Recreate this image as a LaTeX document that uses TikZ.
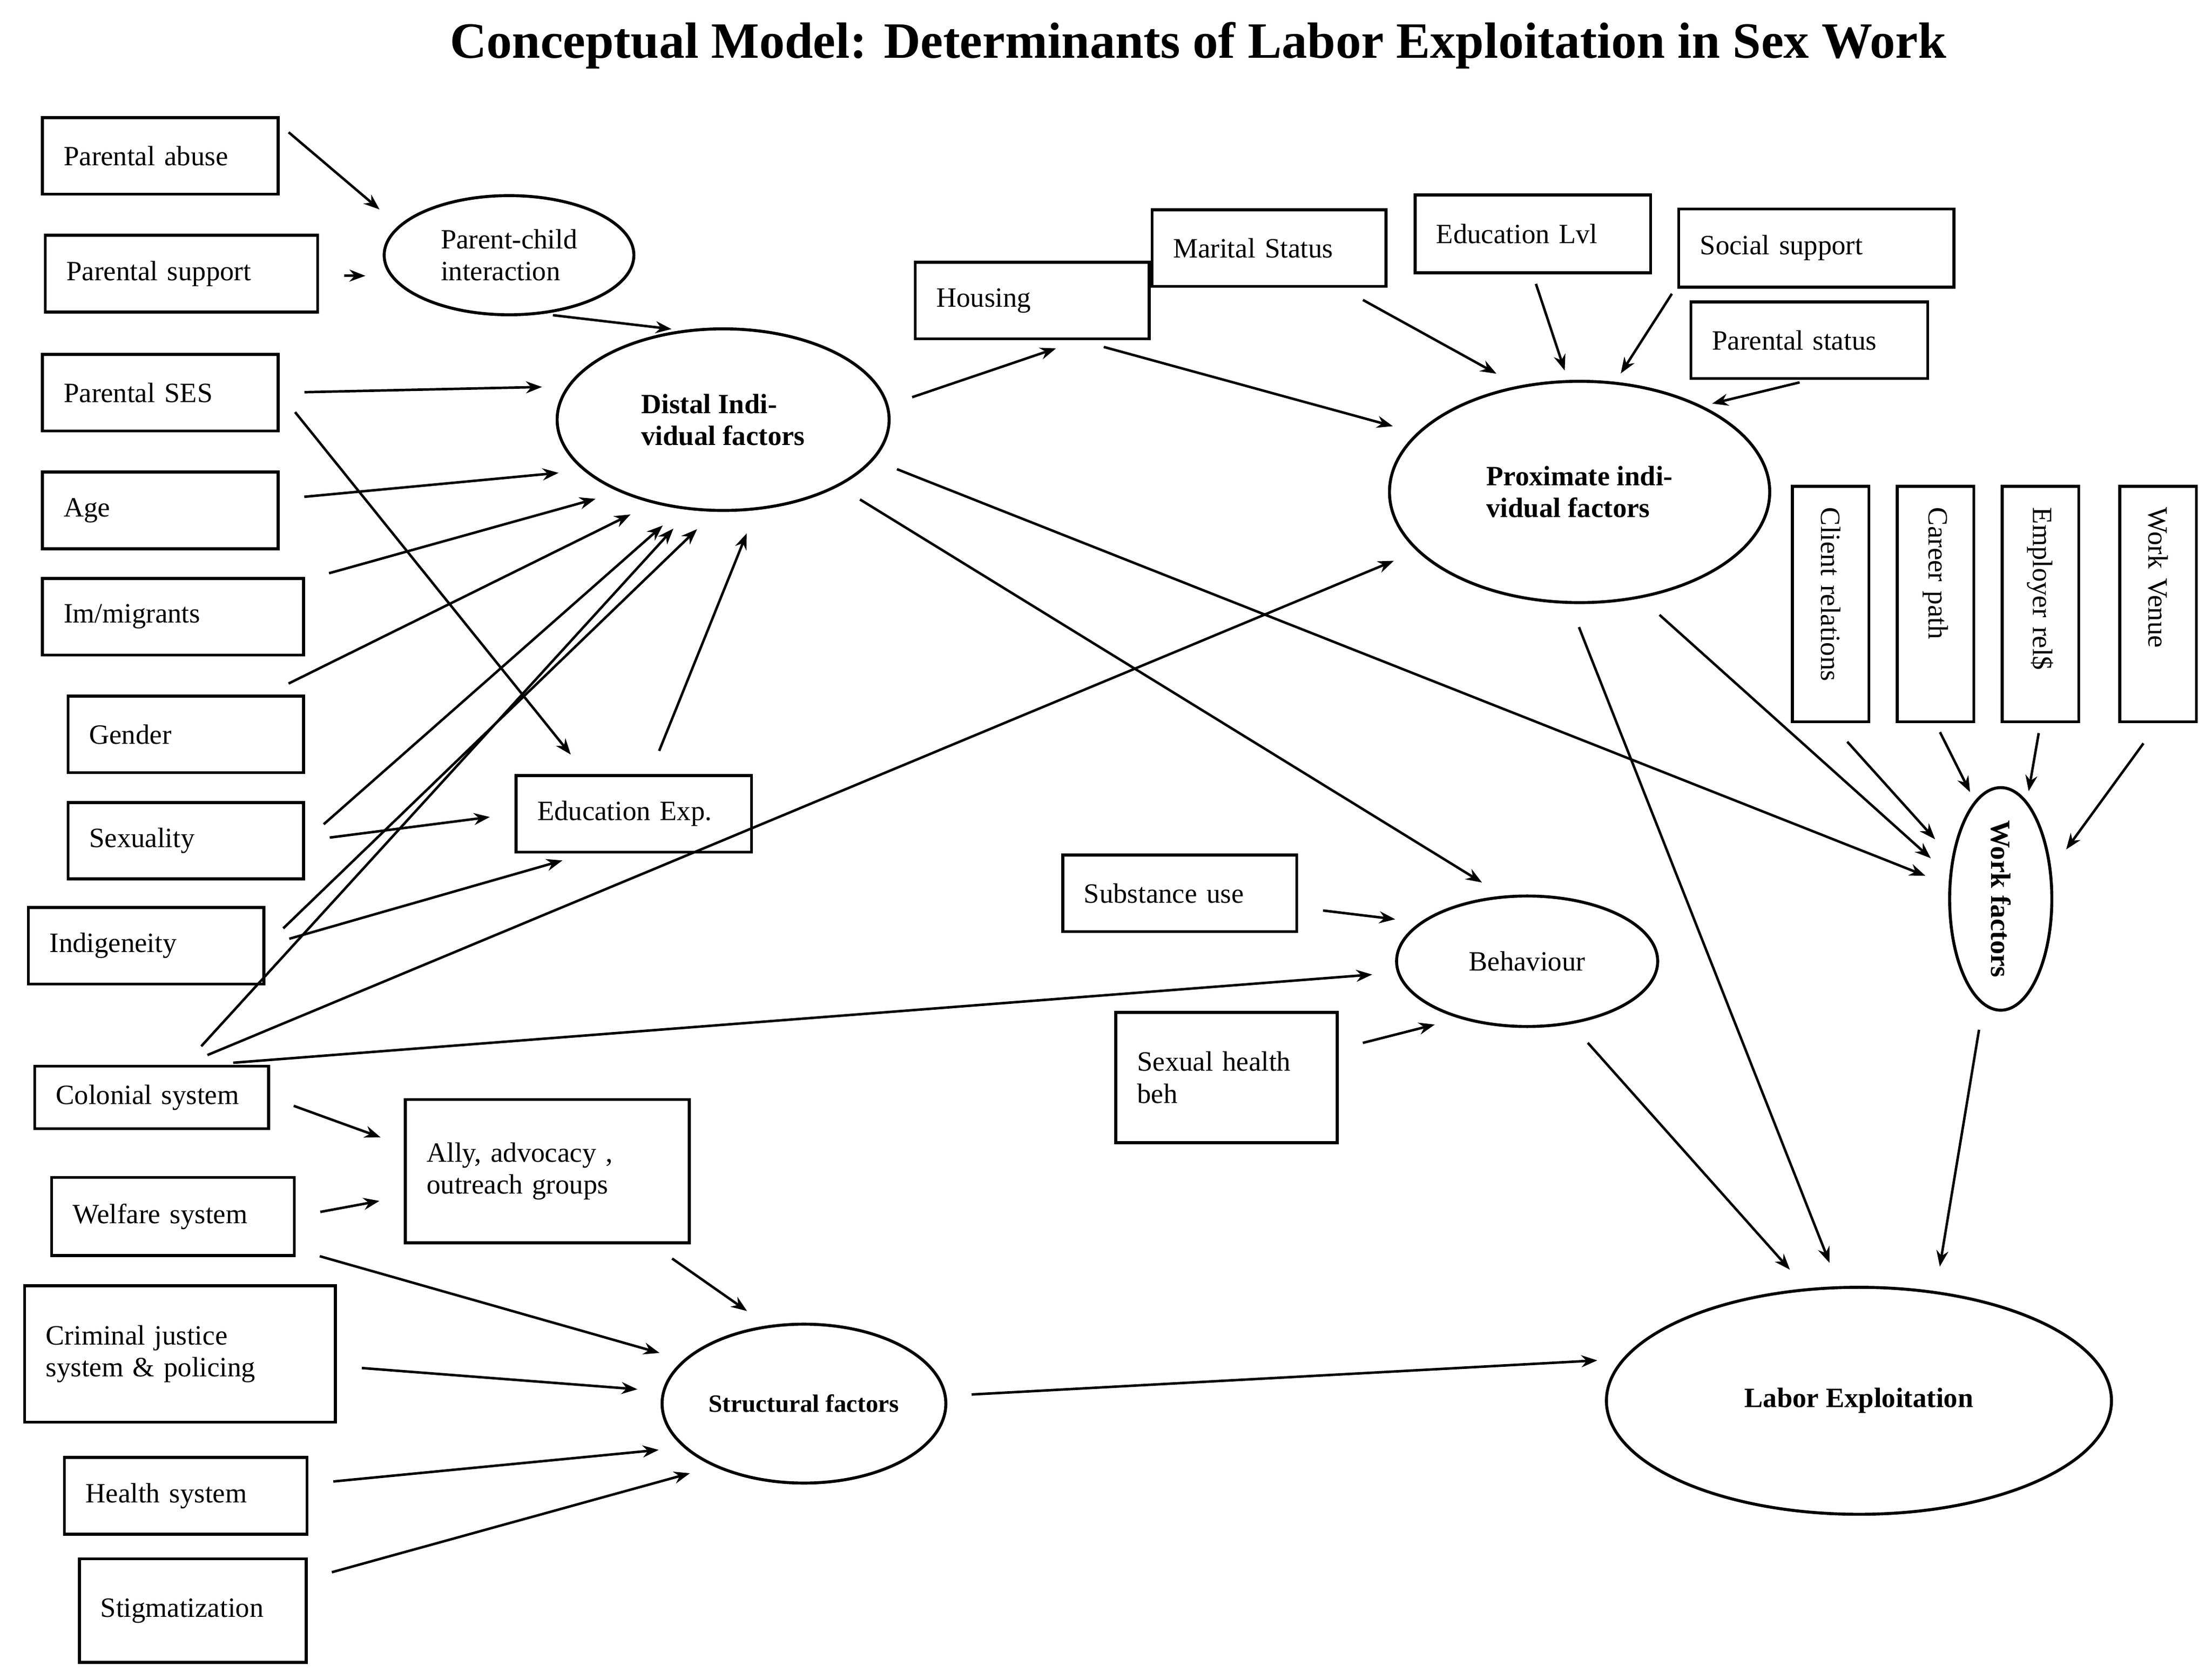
\documentclass[tikz,border=0pt]{standalone}
\usepackage{fontspec}
\setmainfont{Liberation Serif}
\usetikzlibrary{arrows.meta,shapes.geometric}
\tikzset{
  box/.style 2 args={draw, line width=0.6pt, text width=#1, minimum height=#2,
    inner xsep=0.15cm, align=left, font=\fontsize{5.6}{6.4}\selectfont},
  vbox/.style={box={1.36cm}{0.54cm}, rotate=-90},
  oval/.style 2 args={draw, ellipse, line width=0.6pt, minimum width=#1,
    minimum height=#2, align=left, inner sep=0pt, font=\fontsize{5.6}{6.4}\selectfont},
  link/.style={-{Stealth[length=3.2pt,width=2.4pt]}, line width=0.5pt,
    shorten <=5pt, shorten >=5pt},
  near/.style={shorten <=2pt, shorten >=2pt}
}
\begin{document}
\begin{tikzpicture}[x=0.01cm, y=-0.01cm]
  \useasboundingbox[fill=white] (0,0) rectangle (1560,1180);
  \node[font=\fontsize{10.2}{12}\selectfont\bfseries] (title) at (845,32)
    {Conceptual Model: Determinants of Labor Exploitation in Sex Work};
  % Left column
  \node[box={1.36cm}{0.54cm}] (abuse) at (113,110) {Parental abuse};
  \node[box={1.62cm}{0.54cm}] (support) at (128,193) {Parental support};
  \node[box={1.36cm}{0.54cm}] (ses) at (113,277) {Parental SES};
  \node[box={1.36cm}{0.54cm}] (age) at (113,360) {Age};
  \node[box={1.54cm}{0.54cm}] (migr) at (122,435) {Im/migrants};
  \node[box={1.36cm}{0.54cm}] (gender) at (131,518) {Gender};
  \node[box={1.36cm}{0.54cm}] (sexual) at (131,593) {Sexuality};
  \node[box={1.36cm}{0.54cm}] (indig) at (103,667) {Indigeneity};
  \node[box={1.35cm}{0.44cm}] (colon) at (107,774) {Colonial system};
  \node[box={1.41cm}{0.55cm}] (welfare) at (122,858) {Welfare system};
  \node[box={1.89cm}{0.96cm}] (crime) at (127,955) {Criminal justice\\system \& policing};
  \node[box={1.41cm}{0.54cm}] (health) at (131,1055) {Health system};
  \node[box={1.30cm}{0.73cm}] (stigma) at (136,1136) {Stigmatization};
  % Middle
  \node[oval={1.76cm}{0.84cm}] (pc) at (359,180) {Parent-child\\interaction};
  \node[oval={2.34cm}{1.28cm}, font=\fontsize{5.6}{6.4}\selectfont\bfseries] (distal) at (510,296) {Distal Indi-\\vidual factors};
  \node[box={1.36cm}{0.54cm}] (eduexp) at (447,574) {Education Exp.};
  \node[box={1.70cm}{1.01cm}] (ally) at (386,826) {Ally, advocacy ,\\outreach groups};
  \node[oval={2.00cm}{1.12cm}, font=\fontsize{5}{6}\selectfont\bfseries] (struct) at (567,990) {Structural factors};
  % Upper right
  \node[box={1.35cm}{0.54cm}] (housing) at (728,212) {Housing};
  \node[box={1.35cm}{0.54cm}] (marital) at (895,175) {Marital Status};
  \node[box={1.36cm}{0.55cm}] (edulvl) at (1081,165) {Education Lvl};
  \node[box={1.64cm}{0.55cm}] (social) at (1281,175) {Social support};
  \node[box={1.37cm}{0.54cm}] (pstatus) at (1276,240) {Parental status};
  \node[oval={2.68cm}{1.56cm}, font=\fontsize{5.6}{6.4}\selectfont\bfseries] (prox) at (1114,347) {Proximate indi-\\vidual factors};
  \node[vbox] (client) at (1291,426) {Client relations};
  \node[vbox] (career) at (1365,426) {Career path};
  \node[vbox] (employ) at (1439,426) {Employer rel\$};
  \node[vbox] (venue) at (1522,426) {Work Venue};
  \node[oval={0.72cm}{1.56cm}, align=center, font=\fontsize{5.6}{6.4}\selectfont\bfseries] (work) at (1411,634) {\rotatebox{-90}{Work factors}};
  % Lower right
  \node[box={1.35cm}{0.54cm}] (subst) at (832,630) {Substance use};
  \node[box={1.26cm}{0.92cm}] (sexhb) at (865,760) {Sexual health\\beh};
  \node[oval={1.84cm}{0.92cm}] (behav) at (1077,678) {Behaviour};
  \node[oval={3.56cm}{1.60cm}, font=\fontsize{5.6}{6.4}\selectfont\bfseries] (labor) at (1311,988) {Labor Exploitation};
  % Connectors
  \draw[link] (abuse.20) -- (pc.165);
  \draw[link] (support) -- (pc.190);
  \draw[link, near] (pc.300) -- (distal.115);
  \draw[link] (ses.east) -- (distal.168);
  \draw[link] (ses.east) -- (eduexp.140);
  \draw[link] (age) -- (distal.200);
  \draw[link] (migr) -- (distal.215);
  \draw[link] (gender) -- (distal.230);
  \draw[link] (sexual.east) -- (distal.245);
  \draw[link] (sexual.east) -- (eduexp.west);
  \draw[link] (indig.east) -- (distal.265);
  \draw[link] (indig.east) -- (eduexp.220);
  \draw[link] (eduexp) -- (distal.290);
  \draw[link] (colon.45) -- (distal.250);
  \draw[link] (colon.45) -- (prox.200);
  \draw[link] (colon.30) -- (behav.185);
  \draw[link] (colon.east) -- (ally.170);
  \draw[link] (welfare.east) -- (ally.190);
  \draw[link] (welfare.345) -- (struct.160);
  \draw[link] (crime) -- (struct.175);
  \draw[link] (health) -- (struct.200);
  \draw[link] (stigma) -- (struct.215);
  \draw[link] (ally) -- (struct.115);
  \draw[link] (struct) -- (labor.170);
  \draw[link] (distal.5) -- (housing.320);
  \draw[link] (distal.330) -- (behav.110);
  \draw[link] (distal.345) -- (work.165);
  \draw[link] (housing.320) -- (prox.160);
  \draw[link] (marital) -- (prox.120);
  \draw[link, near] (edulvl.south) -- (prox.96);
  \draw[link, near] (social.195) -- (prox.72);
  \draw[link, near] (pstatus.south) -- (prox.35);
  \draw[link] (prox.300) -- (work.155);
  \draw[link] (prox.265) -- (labor.100);
  \draw[link] (client.east) -- (work.140);
  \draw[link, near] (career.east) -- (work.105);
  \draw[link, near] (employ.east) -- (work.75);
  \draw[link] (venue.east) -- (work.30);
  \draw[link] (work) -- (labor.55);
  \draw[link] (subst) -- (behav.160);
  \draw[link] (sexhb) -- (behav.220);
  \draw[link] (behav.305) -- (labor.115);
\end{tikzpicture}
\end{document}
